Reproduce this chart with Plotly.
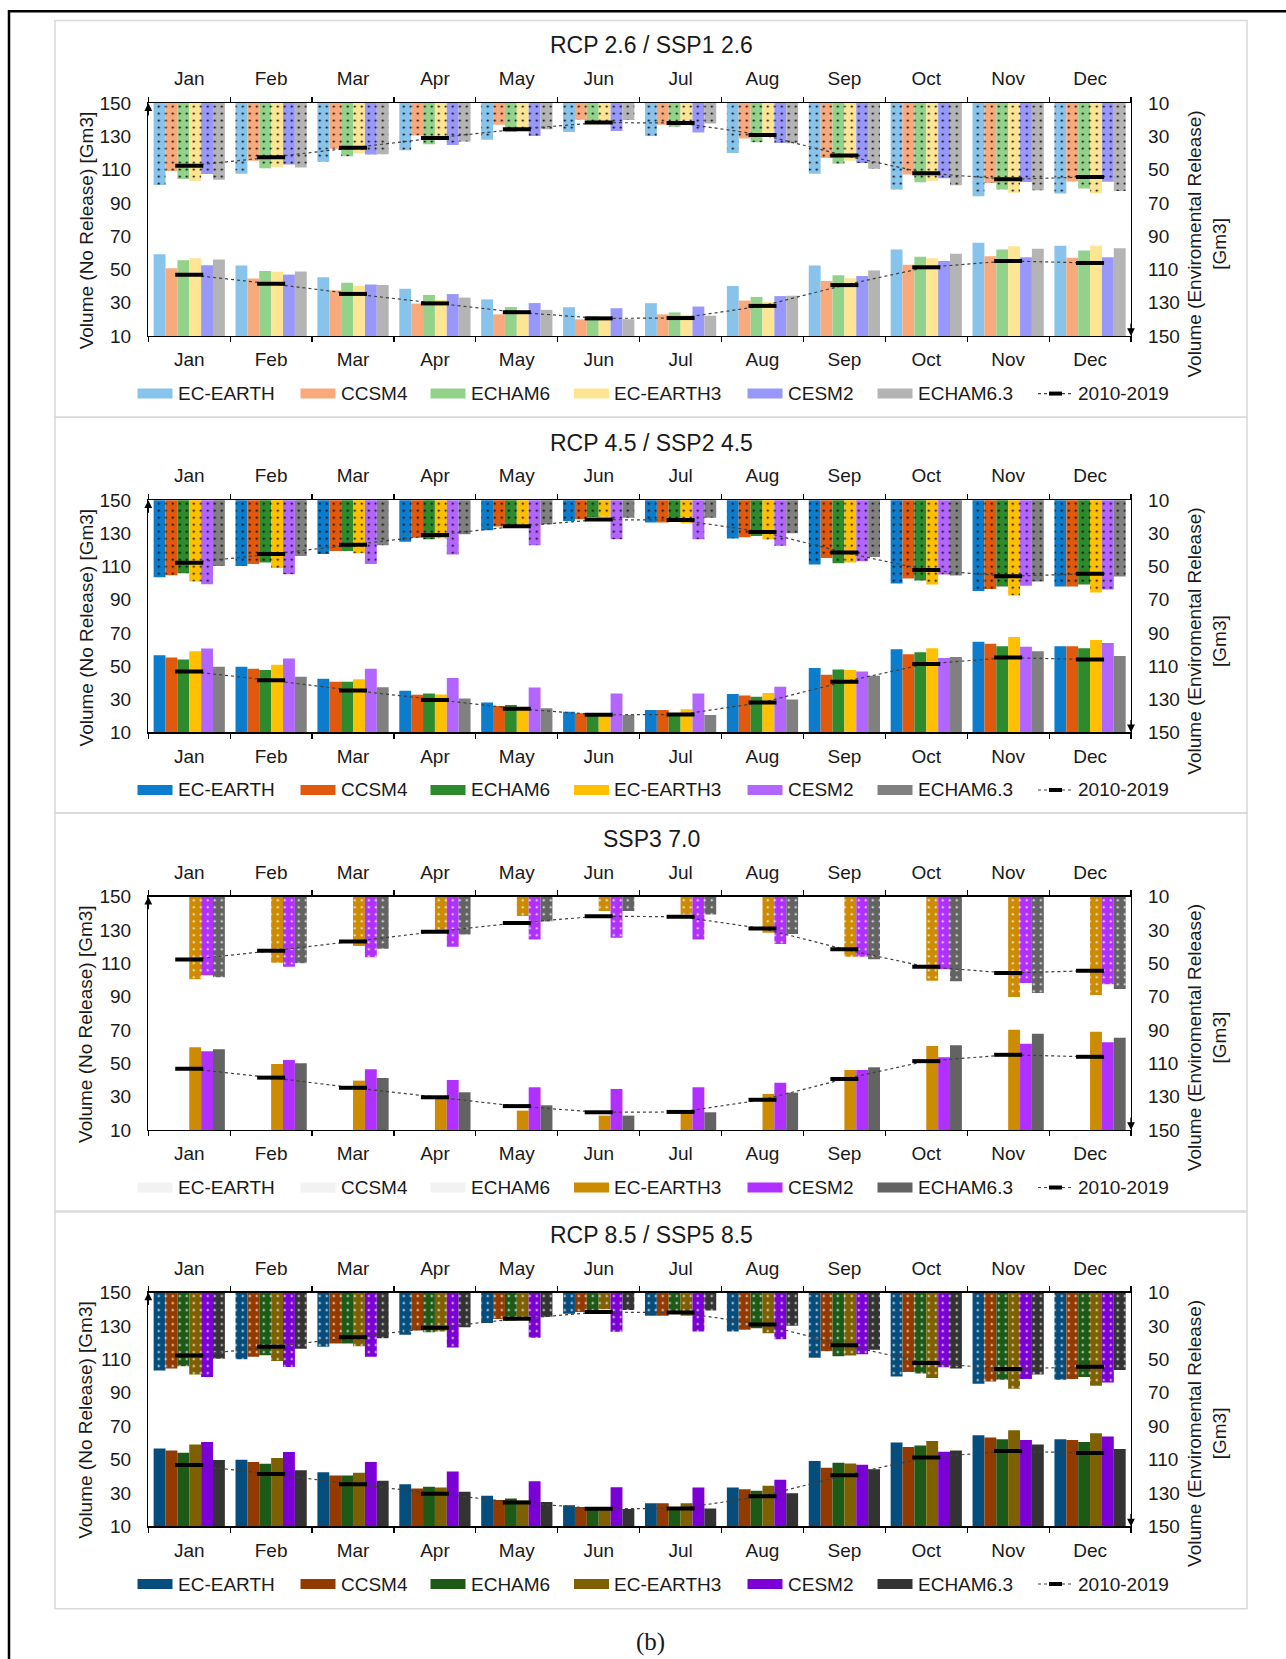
import plotly.graph_objects as go

W, H = 1286, 1659

months = ["Jan", "Feb", "Mar", "Apr", "May", "Jun", "Jul", "Aug", "Sep", "Oct", "Nov", "Dec"]
model_names = ["EC-EARTH", "CCSM4", "ECHAM6", "EC-EARTH3", "CESM2", "ECHAM6.3"]
y_ticks = [10, 30, 50, 70, 90, 110, 130, 150]

# ---- RCP 2.6 / SSP1 2.6 ----
rcp26_ec_earth = [59.2, 52.4, 45.3, 38.4, 32.0, 27.3, 29.7, 40.0, 52.4, 62.0, 66.0, 64.3]
rcp26_ccsm4 = [50.8, 44.6, 37.4, 29.5, 23.0, 20.0, 23.0, 31.3, 43.0, 52.9, 58.0, 57.1]
rcp26_echam6 = [55.6, 49.1, 42.0, 34.7, 27.4, 21.9, 24.2, 33.5, 46.5, 57.6, 62.0, 61.4]
rcp26_ec_earth3 = [56.8, 48.6, 40.2, 31.7, 25.0, 21.1, 22.8, 30.4, 44.7, 56.8, 63.9, 64.2]
rcp26_cesm2 = [52.6, 46.9, 40.9, 35.2, 29.8, 26.7, 27.7, 34.0, 46.0, 55.1, 57.4, 57.3]
rcp26_echam63 = [56.0, 48.7, 40.7, 33.1, 25.7, 20.1, 22.2, 34.2, 49.4, 59.4, 62.4, 62.8]

# ---- RCP 4.5 / SSP2 4.5 ----
rcp45_ec_earth = [56.5, 49.6, 42.4, 35.1, 28.1, 22.5, 23.5, 33.1, 48.8, 60.2, 64.7, 62.0]
rcp45_ccsm4 = [55.2, 48.4, 40.6, 32.7, 25.9, 21.5, 23.5, 32.3, 44.8, 57.2, 63.5, 62.0]
rcp45_echam6 = [54.0, 47.6, 40.6, 33.5, 26.5, 20.1, 21.3, 31.5, 48.0, 58.4, 62.0, 60.8]
rcp45_ec_earth3 = [59.0, 50.8, 42.0, 32.9, 24.5, 19.9, 23.9, 33.7, 47.6, 60.8, 67.5, 65.7]
rcp45_cesm2 = [60.6, 54.6, 48.4, 42.8, 37.1, 33.5, 33.5, 37.5, 46.8, 54.8, 61.6, 63.9]
rcp45_echam63 = [49.6, 43.6, 37.2, 30.5, 24.5, 20.5, 20.5, 29.9, 44.2, 55.4, 59.0, 56.0]

# ---- SSP3 7.0 (only three models) ----
ssp370_ec_earth3 = [59.6, 49.6, 39.6, 30.4, 21.6, 18.6, 20.6, 31.6, 46.0, 60.4, 70.2, 69.0]
ssp370_cesm2 = [57.2, 52.0, 46.4, 40.0, 35.6, 34.6, 35.6, 38.4, 46.0, 53.6, 61.8, 62.6]
ssp370_echam63 = [58.4, 50.0, 41.2, 32.6, 24.8, 18.6, 20.6, 32.4, 47.6, 60.8, 67.8, 65.4]

# ---- RCP 8.5 / SSP5 8.5 ----
rcp85_ec_earth = [56.7, 49.9, 42.5, 35.3, 28.3, 22.7, 23.9, 33.3, 49.1, 60.3, 64.6, 62.2]
rcp85_ccsm4 = [55.5, 48.5, 40.5, 32.7, 25.9, 21.6, 23.9, 32.3, 45.1, 57.5, 63.2, 61.8]
rcp85_echam6 = [54.1, 47.5, 40.5, 33.7, 26.7, 21.0, 21.0, 31.4, 48.1, 58.5, 62.2, 60.6]
rcp85_ec_earth3 = [59.1, 50.9, 42.1, 33.3, 25.5, 20.0, 23.9, 34.3, 47.7, 61.2, 67.6, 65.8]
rcp85_cesm2 = [60.6, 54.5, 48.5, 42.9, 37.1, 33.5, 33.3, 37.9, 46.9, 54.7, 61.8, 63.8]
rcp85_echam63 = [49.7, 43.7, 37.3, 30.7, 24.7, 20.4, 20.8, 29.9, 44.3, 55.5, 59.1, 56.3]

# ---- 2010-2019 reference (lower: left axis, upper: right axis) ----
hist_low = [46.8, 41.4, 35.3, 29.6, 24.3, 20.6, 20.8, 28.1, 40.6, 51.3, 55.1, 53.9]
hist_up = [47.7, 42.5, 36.8, 31.0, 25.7, 21.7, 22.0, 29.1, 41.5, 52.1, 55.8, 54.4]
hist_name = "2010-2019"

scenarios = [
    dict(title="RCP 2.6 / SSP1 2.6",
         series=[rcp26_ec_earth, rcp26_ccsm4, rcp26_echam6, rcp26_ec_earth3, rcp26_cesm2, rcp26_echam63],
         colors=["#87c3ea", "#f9aa7d", "#93d28b", "#fee594", "#9898fb", "#b4b4b4"], dot="black"),
    dict(title="RCP 4.5 / SSP2 4.5",
         series=[rcp45_ec_earth, rcp45_ccsm4, rcp45_echam6, rcp45_ec_earth3, rcp45_cesm2, rcp45_echam63],
         colors=["#0b7dcc", "#e0590c", "#2d8a2d", "#ffc000", "#b266ff", "#808080"], dot="black"),
    dict(title="SSP3 7.0",
         series=[None, None, None, ssp370_ec_earth3, ssp370_cesm2, ssp370_echam63],
         colors=["#f2f2f2", "#f2f2f2", "#f2f2f2", "#cc8b00", "#b030ff", "#636363"], dot="white"),
    dict(title="RCP 8.5 / SSP5 8.5",
         series=[rcp85_ec_earth, rcp85_ccsm4, rcp85_echam6, rcp85_ec_earth3, rcp85_cesm2, rcp85_echam63],
         colors=["#054d7d", "#933a00", "#1e5a17", "#7f6000", "#7a00d6", "#333333"], dot="white"),
]

# ---- layout geometry (pixels, as measured on the target picture) ----
X0, X1 = 148.3, 1131.0
panels_px = [(20, 417, 102.7, 335.7), (417, 813, 500.0, 732.3),
             (813, 1211, 896.7, 1130.0), (1212, 1609, 1292.7, 1526.7)]
legend_sym_x = [137.5, 300.5, 430.5, 574.0, 747.5, 877.5]
legend_hist_x = 1038.0

# the photographed page comes out slightly squeezed vertically; compensate
V_SCALE, V_OFF = 0.9878, 9.55


def px(x):
    return x / W


def py(y):
    return 1 - ((y - V_OFF) / V_SCALE) / H


FONT = "Liberation Sans, Arial, sans-serif"
TXT = "#1a1a1a"
GROUP = 0.87
NB = 6
BW = GROUP / NB

fig = go.Figure()
layout = {}
shapes = []
annotations = []

for p, sc in enumerate(scenarios):
    ftop, fbot, top, bot = panels_px[p]
    ia, ib = 2 * p + 1, 2 * p + 2
    xa = "x" if ia == 1 else f"x{ia}"
    ya = "y" if ia == 1 else f"y{ia}"
    xb, yb = f"x{ib}", f"y{ib}"
    ly = bot + 57.6

    for i, name in enumerate(model_names):
        vals = sc["series"][i]
        col = sc["colors"][i]
        off = -GROUP / 2 + i * BW
        if vals is not None:
            fig.add_trace(go.Bar(x=months, y=vals, xaxis=xa, yaxis=ya, width=BW, offset=off,
                                 marker=dict(color=col, line=dict(width=0)),
                                 showlegend=False, name=name))
            fig.add_trace(go.Bar(x=months, y=vals, xaxis=xb, yaxis=yb, width=BW, offset=off,
                                 marker=dict(color=col, line=dict(width=0),
                                             pattern=dict(shape=".", fgcolor=sc["dot"], bgcolor=col,
                                                          size=7, solidity=0.07, fillmode="replace")),
                                 showlegend=False, name=name))
        # legend item (drawn manually)
        sx = legend_sym_x[i]
        shapes.append(dict(type="rect", xref="paper", yref="paper", x0=px(sx), x1=px(sx + 35),
                           y0=py(ly + 5), y1=py(ly - 5), fillcolor=col, line=dict(width=0)))
        annotations.append(dict(text=name, xref="paper", yref="paper", x=px(sx + 38), y=py(ly),
                                xanchor="left", yanchor="middle", showarrow=False,
                                font=dict(family=FONT, size=19, color=TXT)))

    base_line = dict(color="#404040", width=1.2, dash="dot")
    base_marker = dict(symbol="line-ew", size=20, color="black", line=dict(width=4, color="black"))
    fig.add_trace(go.Scatter(x=months, y=hist_low, mode="lines+markers", xaxis=xa, yaxis=ya,
                             line=base_line, marker=base_marker, showlegend=False, name=hist_name))
    fig.add_trace(go.Scatter(x=months, y=hist_up, mode="lines+markers", xaxis=xb, yaxis=yb,
                             line=base_line, marker=base_marker, showlegend=False, name=hist_name))
    # legend item for 2010-2019
    hx = legend_hist_x
    shapes.append(dict(type="line", xref="paper", yref="paper", x0=px(hx), x1=px(hx + 35),
                       y0=py(ly), y1=py(ly), line=dict(color="#404040", width=1.2, dash="dot")))
    shapes.append(dict(type="line", xref="paper", yref="paper", x0=px(hx + 11), x1=px(hx + 24),
                       y0=py(ly), y1=py(ly), line=dict(color="black", width=4)))
    annotations.append(dict(text=hist_name, xref="paper", yref="paper", x=px(hx + 38), y=py(ly),
                            xanchor="left", yanchor="middle", showarrow=False,
                            font=dict(family=FONT, size=19, color=TXT)))

    xcommon = dict(type="category", categoryorder="array", categoryarray=months, range=[-0.5, 11.5],
                   showline=True, linecolor="black", linewidth=1.3, ticks="outside", tickson="boundaries",
                   ticklen=5, tickwidth=1.2, tickcolor="black", showgrid=False, zeroline=False,
                   tickfont=dict(family=FONT, size=19, color=TXT), fixedrange=True)
    ycommon = dict(tickmode="array", tickvals=y_ticks, showline=True, linecolor="black", linewidth=1.3,
                   ticks="", showgrid=False, zeroline=False,
                   tickfont=dict(family=FONT, size=19, color=TXT), ticklabelstandoff=12, fixedrange=True)

    kxa = "xaxis" if ia == 1 else f"xaxis{ia}"
    kya = "yaxis" if ia == 1 else f"yaxis{ia}"
    layout[kxa] = dict(domain=[px(X0), px(X1)], anchor=ya, side="bottom", ticklabelstandoff=6, **xcommon)
    layout[f"xaxis{ib}"] = dict(overlaying=xa, anchor=yb, side="top", ticklabelstandoff=9, **xcommon)
    layout[kya] = dict(domain=[py(bot), py(top)], anchor=xa, side="left", range=[10, 150], **ycommon)
    layout[f"yaxis{ib}"] = dict(overlaying=ya, anchor=xb, side="right", range=[150, 10], **ycommon)

    # panel frame
    shapes.append(dict(type="rect", xref="paper", yref="paper", x0=px(55), x1=px(1247),
                       y0=py(fbot), y1=py(ftop), line=dict(color="#d9d9d9", width=1.5)))
    # titles
    annotations.append(dict(text=sc["title"], xref="paper", yref="paper", x=px(651), y=py(top - 57.7),
                            showarrow=False, font=dict(family=FONT, size=23, color=TXT),
                            xanchor="center", yanchor="middle"))
    annotations.append(dict(text="Volume (No Release) [Gm3]", xref="paper", yref="paper", x=px(86),
                            y=py(top + 127.3), textangle=-90, showarrow=False,
                            font=dict(family=FONT, size=19, color=TXT), xanchor="center", yanchor="middle"))
    annotations.append(dict(text="Volume (Enviromental Release)<br>[Gm3]", xref="paper", yref="paper",
                            x=px(1207), y=py(top + 141.5), textangle=-90, showarrow=False,
                            font=dict(family=FONT, size=19, color=TXT), xanchor="center", yanchor="middle"))
    # axis arrows
    annotations.append(dict(text="", xref=f"{xa} domain", yref=ya, x=0, y=150, ax=0, ay=14,
                            showarrow=True, arrowhead=2, arrowsize=1.2, arrowwidth=1.3, arrowcolor="black"))
    annotations.append(dict(text="", xref=f"{xb} domain", yref=yb, x=1, y=150, ax=0, ay=-14,
                            showarrow=True, arrowhead=2, arrowsize=1.2, arrowwidth=1.3, arrowcolor="black"))

# outer border
shapes.append(dict(type="rect", xref="paper", yref="paper", x0=px(9), x1=px(1300), y0=py(1700),
                   y1=py(10.8), line=dict(color="black", width=2.5)))
annotations.append(dict(text="(b)", xref="paper", yref="paper", x=px(650), y=py(1642), showarrow=False,
                        font=dict(family="Liberation Serif, serif", size=25, color=TXT),
                        xanchor="center", yanchor="middle"))

fig.update_layout(width=W, height=H, margin=dict(l=0, r=0, t=0, b=0), paper_bgcolor="white",
                  plot_bgcolor="white", barmode="overlay", shapes=shapes, annotations=annotations,
                  showlegend=False, **layout)

fig.write_html("out.html", config={"displayModeBar": False, "staticPlot": True},
               post_script="document.body.style.margin='0';document.body.style.overflow='hidden';")
